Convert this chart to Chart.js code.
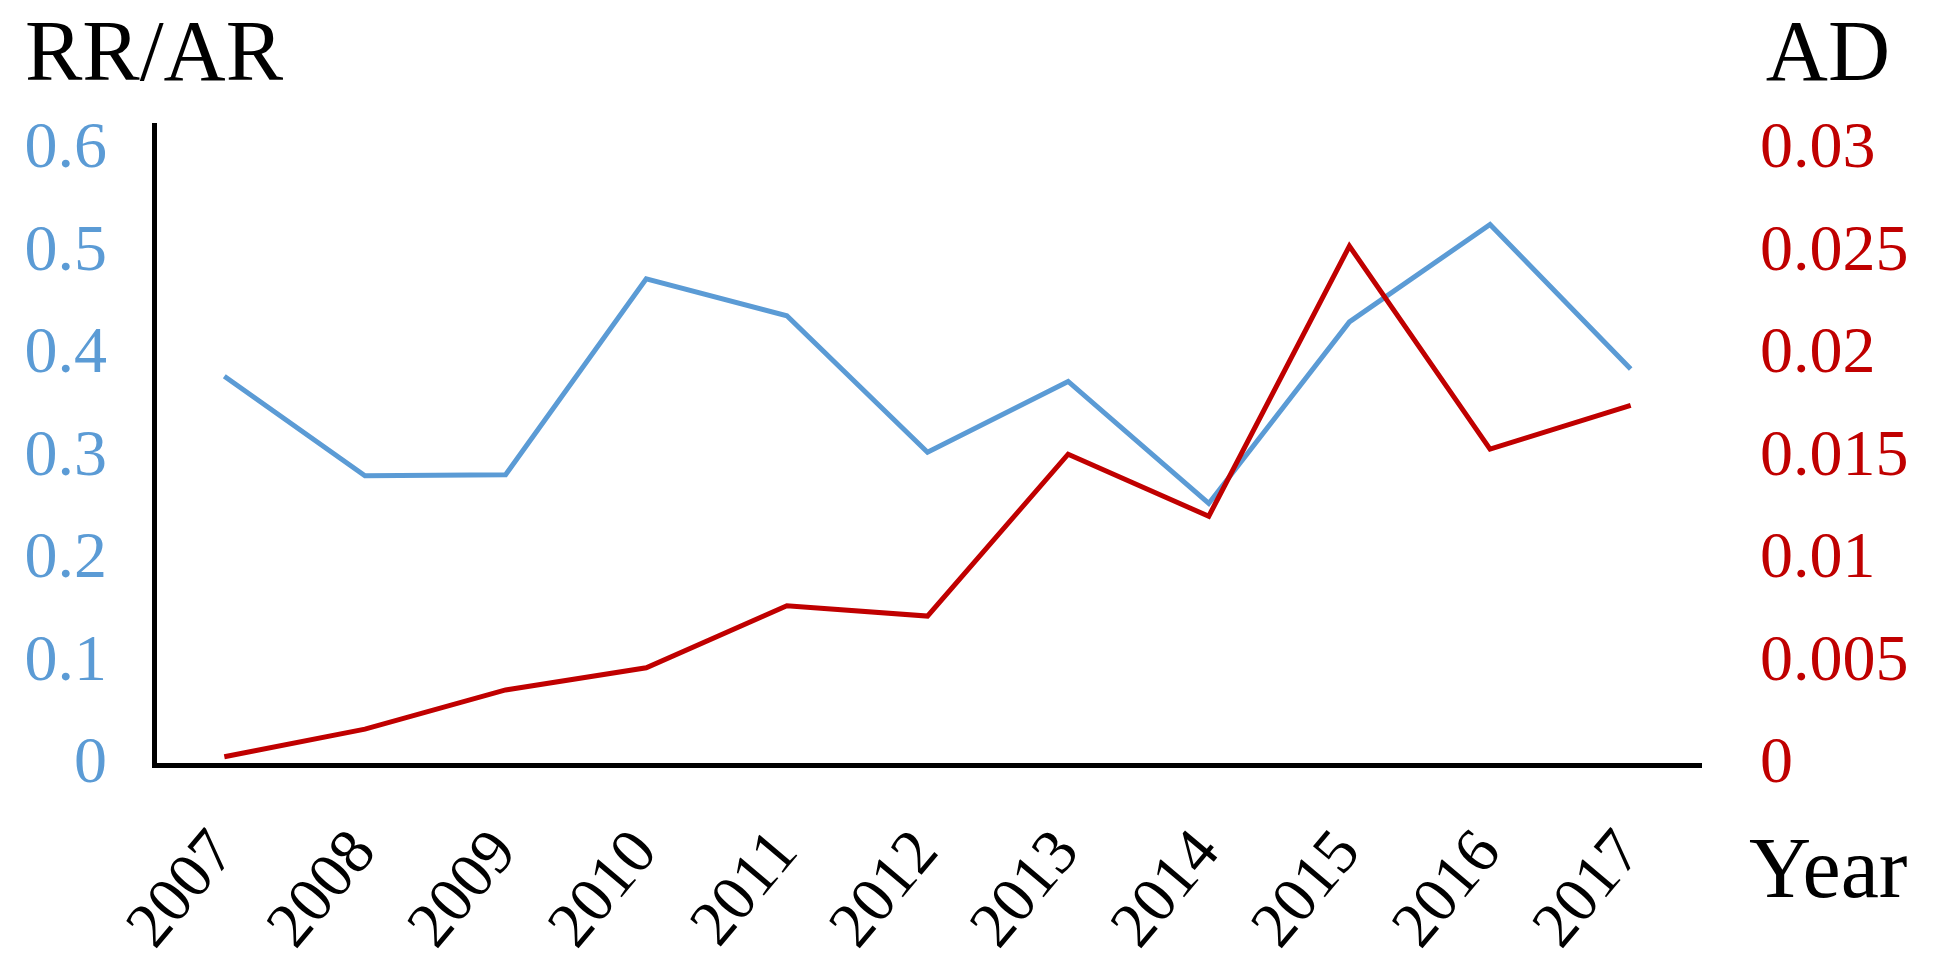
<!DOCTYPE html>
<html>
<head>
<meta charset="utf-8">
<title>RR/AR and AD by year</title>
<script src="https://cdn.jsdelivr.net/npm/chart.js@4/dist/chart.umd.min.js"></script>
<style>
  html, body { margin: 0; padding: 0; background: #fff; }
  #wrap { width: 1933px; height: 972px; position: relative; }
</style>
</head>
<body>
<div id="wrap"><canvas id="ratioChart"></canvas></div>
<script>
// Data
const years = ["2007", "2008", "2009", "2010", "2011", "2012", "2013", "2014", "2015", "2016", "2017"];
const rrAr = [0.379, 0.282, 0.283, 0.474, 0.438, 0.305, 0.374, 0.255, 0.432, 0.527, 0.386];
const ad = [0.0004, 0.00175, 0.00366, 0.00474, 0.00776, 0.00726, 0.01515, 0.01213, 0.0253, 0.0154, 0.01753];

const leftTicks = [0, 0.1, 0.2, 0.3, 0.4, 0.5, 0.6];
const rightTicks = [0, 0.005, 0.01, 0.015, 0.02, 0.025, 0.03];

const BLUE = "#5b9bd5";
const RED = "#c00000";
const SERIF = "'Liberation Serif', 'Times New Roman', serif";

// Judul sumbu di pojok (RR/AR, AD, Year)
const cornerTitles = {
  id: "cornerTitles",
  afterDraw(chart) {
    const ctx = chart.ctx;
    const area = chart.chartArea;
    ctx.save();
    ctx.fillStyle = "#000";
    ctx.font = "86px " + SERIF;
    ctx.textBaseline = "alphabetic";
    ctx.textAlign = "left";
    ctx.fillText("RR/AR", 25, 80);
    ctx.textAlign = "right";
    ctx.fillText("AD", 1890, 80);
    ctx.textAlign = "left";
    ctx.fillText("Year", area.right + 48, 897);
    ctx.restore();
  }
};

function setupChart() {
  const ctx = document.getElementById("ratioChart").getContext("2d");
  new Chart(ctx, {
    type: "line",
    data: {
      labels: years,
      datasets: [
        {
          label: "AD",
          data: ad,
          yAxisID: "yRight",
          borderColor: RED,
          borderWidth: 5,
          pointRadius: 0,
          tension: 0
        },
        {
          label: "RR/AR",
          data: rrAr,
          yAxisID: "yLeft",
          borderColor: BLUE,
          borderWidth: 5,
          pointRadius: 0,
          tension: 0
        }
      ]
    },
    options: {
      responsive: true,
      maintainAspectRatio: false,
      animation: false,
      layout: { padding: { top: 125, left: 0, right: 0, bottom: 0 } },
      plugins: {
        legend: { display: false },
        tooltip: { enabled: false }
      },
      scales: {
        x: {
          offset: true,
          grid: { display: false, drawTicks: false },
          border: { display: true, color: "#000", width: 5 },
          ticks: {
            color: "#000",
            font: { family: SERIF, size: 64 },
            minRotation: 50,
            maxRotation: 50,
            padding: 52,
            autoSkip: false
          },
          afterFit(scale) { scale.height = 207; }
        },
        yLeft: {
          position: "left",
          min: 0,
          max: 0.624,
          grid: { display: false, drawTicks: false },
          border: { display: true, color: "#000", width: 5 },
          ticks: {
            color: BLUE,
            font: { family: SERIF, size: 66 },
            padding: 47
          },
          afterBuildTicks(scale) { scale.ticks = leftTicks.map(v => ({ value: v })); },
          afterFit(scale) { scale.width = 154; }
        },
        yRight: {
          position: "right",
          min: 0,
          max: 0.0312,
          grid: { display: false, drawTicks: false },
          border: { display: false },
          ticks: {
            color: RED,
            font: { family: SERIF, size: 66 },
            padding: 59,
            callback: (value) => String(value)
          },
          afterBuildTicks(scale) { scale.ticks = rightTicks.map(v => ({ value: v })); },
          afterFit(scale) { scale.width = 232; }
        }
      }
    },
    plugins: [cornerTitles]
  });
}

document.addEventListener("DOMContentLoaded", setupChart);
</script>
</body>
</html>
